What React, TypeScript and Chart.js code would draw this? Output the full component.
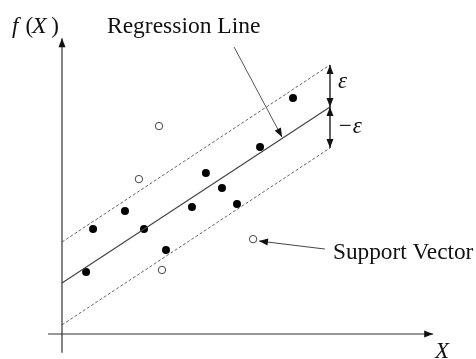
import React, { useEffect, useRef } from "react";
import { Chart, registerables } from "chart.js";

Chart.register(...registerables);

// Training samples inside the ε-tube (filled dots)
const insideX = [0.9, 1.16, 2.35, 3.06, 3.88, 4.85, 5.37, 5.97, 6.53, 7.39, 8.62];
const insideY = [2.31, 3.92, 4.59, 3.92, 3.13, 4.74, 6.01, 5.45, 4.85, 6.98, 8.81];

// Samples outside the tube (open circles)
const outsideX = [3.62, 2.87, 3.73, 7.13];
const outsideY = [7.76, 5.78, 2.39, 3.54];

// Regression line and the two ε-boundaries, given at both ends
const lineX = [0, 10];
const fitY = [1.9, 8.47];
const upperY = [3.43, 10.04];
const lowerY = [0.34, 6.94];

const toPoints = (xs: number[], ys: number[]) => xs.map((x, i) => ({ x, y: ys[i] }));

const SERIF = '"Liberation Serif", "Times New Roman", serif';

function arrowHead(ctx: CanvasRenderingContext2D, fx: number, fy: number, tx: number, ty: number, len = 9, half = 3.5) {
  const a = Math.atan2(ty - fy, tx - fx);
  ctx.beginPath();
  ctx.moveTo(tx, ty);
  ctx.lineTo(tx - len * Math.cos(a) + half * Math.sin(a), ty - len * Math.sin(a) - half * Math.cos(a));
  ctx.lineTo(tx - len * Math.cos(a) - half * Math.sin(a), ty - len * Math.sin(a) + half * Math.cos(a));
  ctx.closePath();
  ctx.fill();
}

const diagramPlugin = {
  id: "svrDiagram",
  afterDatasetsDraw(chart: any) {
    const { ctx, scales } = chart;
    const X = (v: number) => scales.x.getPixelForValue(v);
    const Y = (v: number) => scales.y.getPixelForValue(v);
    ctx.save();

    const line = (x1: number, y1: number, x2: number, y2: number, color: string, w: number) => {
      ctx.strokeStyle = color;
      ctx.lineWidth = w;
      ctx.beginPath();
      ctx.moveTo(X(x1), Y(y1));
      ctx.lineTo(X(x2), Y(y2));
      ctx.stroke();
    };
    const arrow = (x1: number, y1: number, x2: number, y2: number, color: string, w: number, both = false) => {
      line(x1, y1, x2, y2, color, w);
      ctx.fillStyle = "#111";
      arrowHead(ctx, X(x1), Y(y1), X(x2), Y(y2));
      if (both) arrowHead(ctx, X(x2), Y(y2), X(x1), Y(y1));
    };

    // axes
    arrow(0, -0.7, 0, 11.04, "#333", 1.2);
    arrow(-0.52, 0, 13.85, 0, "#333", 1.2);

    // ε markers
    arrow(10, 8.47, 10, 10.04, "#111", 1.3, true);
    arrow(10, 6.94, 10, 8.47, "#111", 1.3, true);

    // annotation pointers
    arrow(6.42, 10.71, 8.21, 7.35, "#555", 1);
    arrow(9.81, 3.17, 7.35, 3.47, "#444", 1);

    ctx.fillStyle = "#111";
    ctx.textBaseline = "alphabetic";
    ctx.textAlign = "left";
    const text = (s: string, x: number, y: number, italic = false, size = 22) => {
      ctx.font = `${italic ? "italic " : ""}${size}px ${SERIF}`;
      ctx.fillText(s, X(x), Y(y));
    };

    // f(X)
    text("f", -1.865, 11.23, true, 23);
    text("(", -1.36, 11.23, false, 23);
    text("X", -1.12, 11.23, true, 24);
    text(")", -0.4, 11.23, false, 23);

    text("Regression Line", 1.68, 11.23, false, 23.5);
    text("Support Vector", 10.11, 2.8, false, 23.3);
    text("ε", 10.3, 9.18, true, 23);
    text("−", 10.33, 7.5, false, 23);
    text("ε", 10.85, 7.5, true, 23);
    text("X", 13.92, -0.9, true, 23);

    ctx.restore();
  },
};

export default function App() {
  const ref = useRef<HTMLCanvasElement | null>(null);

  useEffect(() => {
    if (!ref.current) return;
    const chart = new Chart(ref.current, {
      type: "scatter",
      data: {
        datasets: [
          {
            type: "line",
            data: toPoints(lineX, upperY),
            borderColor: "#666",
            borderWidth: 1,
            borderDash: [3, 2],
            pointRadius: 0,
          },
          {
            type: "line",
            data: toPoints(lineX, fitY),
            borderColor: "#444",
            borderWidth: 1.2,
            pointRadius: 0,
          },
          {
            type: "line",
            data: toPoints(lineX, lowerY),
            borderColor: "#666",
            borderWidth: 1,
            borderDash: [3, 2],
            pointRadius: 0,
          },
          {
            data: toPoints(insideX, insideY),
            backgroundColor: "#000",
            borderColor: "#000",
            pointRadius: 4,
            borderWidth: 0,
          },
          {
            data: toPoints(outsideX, outsideY),
            backgroundColor: "#fff",
            borderColor: "#444",
            pointRadius: 3.7,
            borderWidth: 1,
          },
        ] as any,
      },
      options: {
        animation: false,
        responsive: false,
        maintainAspectRatio: false,
        devicePixelRatio: 1,
        layout: { padding: 0, autoPadding: false },
        plugins: { legend: { display: false }, tooltip: { enabled: false } },
        events: [],
        scales: {
          x: { type: "linear", display: false, min: -2.313, max: 15.448 },
          y: { type: "linear", display: false, min: -0.933, max: 12.463 },
        },
      },
      plugins: [diagramPlugin],
    });
    return () => chart.destroy();
  }, []);

  return (
    <div style={{ position: "fixed", left: 0, top: 0, width: 476, height: 359, background: "#fff" }}>
      <canvas ref={ref} width={476} height={359} style={{ width: 476, height: 359, display: "block" }} />
    </div>
  );
}
